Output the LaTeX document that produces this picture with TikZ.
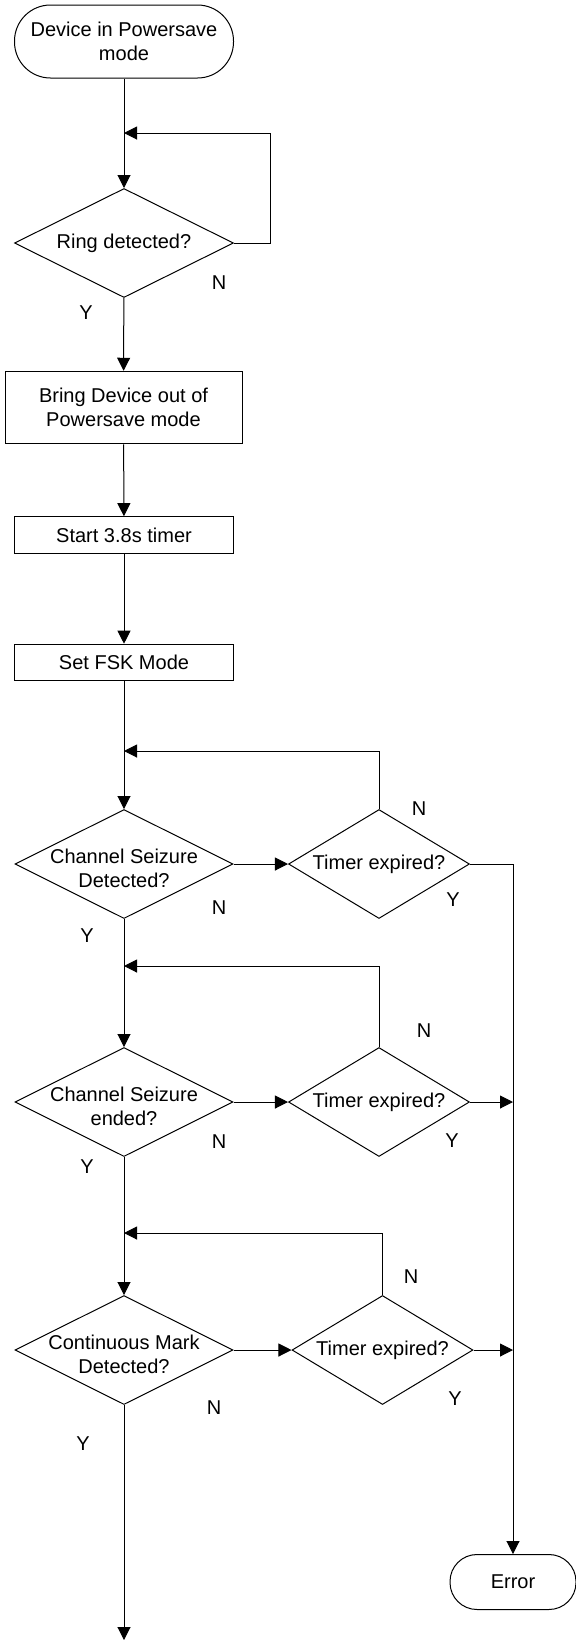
\documentclass[tikz,border=0pt]{standalone}
\usepackage{fontspec}
\setmainfont{Liberation Sans}
\usetikzlibrary{shapes.geometric,arrows.meta}

\begin{document}
\begin{tikzpicture}[x=0.5pt,y=-0.5pt,font=\fontsize{10}{12}\selectfont,line width=0.5pt,
  freccia/.style={-{Triangle[length=6.5pt,width=6.5pt]}},
  terminale/.style={draw,rounded corners=#1,align=center,inner sep=0pt},
  blocco/.style={draw,align=center,inner sep=0pt},
  scelta/.style={draw,diamond,inner sep=0pt,minimum height=54.5pt},
  testo/.style={align=center,inner sep=0pt}]

\useasboundingbox (0,0) rectangle (576,1640);

\begin{scope}

\node[terminale=18pt,minimum width=109.5pt,minimum height=36.5pt] (start) at (124,41.5) {Device in Powersave\\mode};
\coordinate (j1) at (124,133);
\node[scelta,minimum width=109.5pt] (ring) at (124,243) {};
\node[testo] (ringt) at (ring) {Ring detected?};

\node[blocco,minimum width=118.5pt,minimum height=36.25pt] (bring) at (123.5,407.5) {Bring Device out of\\Powersave mode};
\node[blocco,minimum width=109.5pt,minimum height=18.3pt] (tmr) at (124,535) {Start 3.8s timer};
\node[blocco,minimum width=109.5pt,minimum height=18.3pt] (fsk) at (124,662.5) {Set FSK Mode};

\coordinate (j2) at (124,751);
\node[scelta,minimum width=109pt] (cs1) at (124,864) {};
\node[testo,yshift=-2pt] (cs1t) at (cs1) {Channel Seizure\\Detected?};
\node[scelta,minimum width=90.5pt] (te1) at (379,864) {};
\node[testo] (te1t) at (te1) {Timer expired?};

\coordinate (j3) at (124,966);
\node[scelta,minimum width=109pt] (cs2) at (124,1102) {};
\node[testo,yshift=-2pt] (cs2t) at (cs2) {Channel Seizure\\ended?};
\node[scelta,minimum width=90.5pt] (te2) at (379,1102) {};
\node[testo] (te2t) at (te2) {Timer expired?};

\coordinate (j4) at (124,1233);
\node[scelta,minimum width=109pt] (cm) at (124,1350) {};
\node[testo,yshift=-2pt] (cmt) at (cm) {Continuous Mark\\Detected?};
\node[scelta,minimum width=90.5pt] (te3) at (382.5,1350) {};
\node[testo] (te3t) at (te3) {Timer expired?};

\node[terminale=13.5pt,minimum width=63pt,minimum height=27.5pt] (err) at (513,1582) {Error};
\coordinate (fine) at (124,1640);

% linea principale
\draw[freccia] (start) -- (ring);
\draw[freccia] (ring) -- (bring);
\draw[freccia] (bring) -- (tmr);
\draw[freccia] (tmr) -- (fsk);
\draw[freccia] (fsk) -- (cs1);
\draw[freccia] (cs1) -- (cs2);
\draw[freccia] (cs2) -- (cm);
\draw[freccia] (cm) -- (fine);

% ritorni
\draw[freccia] (ring.east) -- ++(36,0) |- (j1);
\draw[freccia] (te1.north) |- (j2);
\draw[freccia] (te2.north) |- (j3);
\draw[freccia] (te3.north) |- (j4);

\draw[freccia] (cs1) -- (te1);
\draw[freccia] (cs2) -- (te2);
\draw[freccia] (cm) -- (te3);

% errore
\draw[freccia] (te1.east) -| (err.north);
\draw[freccia] (te2.east) -- (te2.east -| err.north);
\draw[freccia] (te3.east) -- (te3.east -| err.north);

\node (n1) at (219,283) {N};
\node (y1) at (86,313) {Y};
\node (n2) at (419,809) {N};
\node (n3) at (219,908) {N};
\node (y2) at (87,936) {Y};
\node (y3) at (453,900) {Y};
\node (n4) at (424,1031) {N};
\node (n5) at (219,1142) {N};
\node (y4) at (87,1167) {Y};
\node (y5) at (452,1141) {Y};
\node (n6) at (411,1277) {N};
\node (n7) at (214,1408) {N};
\node (y6) at (83,1444) {Y};
\node (y7) at (455,1399) {Y};
\end{scope}

\end{tikzpicture}
\end{document}
